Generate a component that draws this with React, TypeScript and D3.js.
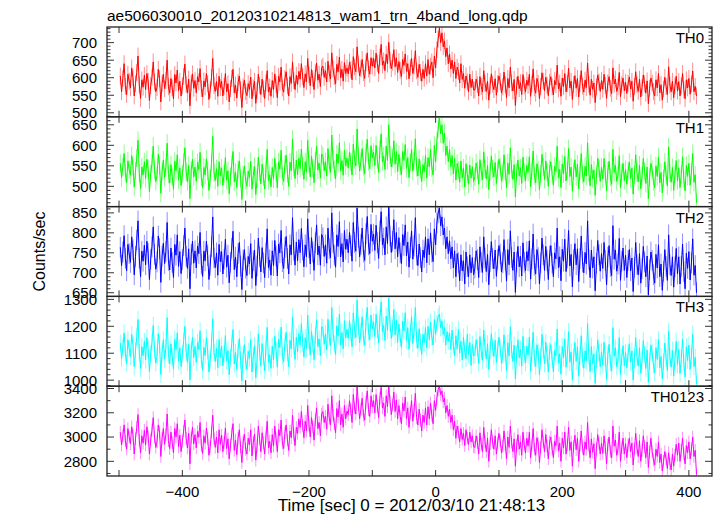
import React from "react";
import * as d3 from "d3";

const TITLE = "ae506030010_20120310214813_wam1_trn_4band_long.qdp";
const X_LABEL = "Time [sec] 0 = 2012/03/10 21:48:13";
const Y_LABEL = "Counts/sec";

const T_START = -498;
const T_STEP = 2;

const bandNames = ["TH0", "TH1", "TH2", "TH3", "TH0123"];
const bandColors = ["#ff0000", "#00ff00", "#0000ff", "#00ffff", "#ff00ff"];
const bandErrors = [24, 22, 26, 32, 52];

const xTicks = [-500, -400, -300, -200, -100, 0, 100, 200, 300, 400];
const xTickLabels = [-400, -200, 0, 200, 400];

const th0 = [
  605, 560, 598, 640, 575, 552, 610, 590, 571, 628, 600, 548, 583, 615, 662, 580, 541, 594, 573, 607,
  566, 612, 590, 535, 578, 601, 645, 588, 560, 572, 624, 597, 531, 583, 610, 569, 592, 650, 574, 556,
  598, 571, 540, 609, 585, 622, 563, 590, 548, 577, 604, 639, 581, 557, 596, 520, 585, 611, 570, 592,
  557, 603, 588, 626, 569, 545, 591, 574, 612, 583, 538, 566, 600, 655, 578, 561, 589, 547, 604, 572,
  590, 548, 575, 612, 560, 583, 531, 569, 598, 624, 557, 579, 542, 586, 605, 566, 515, 574, 593, 560,
  549, 583, 566, 602, 540, 571, 590, 527, 563, 610, 578, 552, 596, 568, 541, 585, 620, 559, 573, 547,
  592, 566, 611, 580, 543, 604, 588, 630, 571, 559, 598, 617, 576, 548, 603, 584, 645, 592, 566, 607,
  581, 618, 596, 640, 603, 572, 611, 589, 655, 608, 577, 623, 598, 566, 614, 642, 593, 610, 575, 628,
  633, 601, 620, 588, 647, 612, 596, 671, 625, 603, 582, 638, 617, 659, 600, 624, 590, 643, 612, 628,
  611, 645, 623, 594, 660, 631, 617, 688, 639, 605, 626, 652, 614, 598, 643, 671, 625, 610, 657, 633,
  655, 628, 670, 641, 612, 659, 695, 636, 648, 620, 667, 639, 701, 650, 626, 644, 680, 631, 657, 615,
  646, 621, 603, 652, 635, 668, 618, 640, 597, 629, 655, 612, 633, 677, 620, 601, 638, 615, 590, 624,
  598, 640, 605, 652, 610, 633, 645, 600, 662, 628, 680, 710, 742, 700, 728, 688, 705, 660, 685, 640,
  668, 625, 650, 612, 645, 598, 630, 618, 585, 640, 595, 612, 570, 605, 588, 560, 610, 572, 596, 565,
  565, 596, 580, 548, 603, 575, 559, 620, 584, 561, 590, 536, 577, 611, 582, 566, 597, 550, 583, 605,
  589, 557, 574, 616, 580, 543, 598, 571, 630, 585, 562, 595, 521, 578, 604, 569, 586, 552, 609, 577,
  560, 593, 578, 610, 547, 582, 625, 571, 556, 598, 584, 540, 575, 614, 590, 563, 601, 579, 549, 587,
  603, 574, 551, 592, 580, 636, 568, 585, 547, 599, 575, 612, 560, 583, 627, 571, 590, 538, 581, 606,
  570, 598, 545, 583, 620, 576, 559, 593, 572, 642, 581, 550, 596, 567, 585, 529, 574, 608, 588, 561,
  592, 567, 610, 578, 541, 585, 603, 570, 555, 628, 582, 596, 561, 574, 615, 546, 580, 599, 563, 587,
  555, 584, 602, 568, 590, 533, 575, 617, 580, 561, 596, 545, 572, 608, 583, 556, 591, 526, 570, 599,
  585, 560, 548, 594, 571, 612, 557, 580, 536, 568, 601, 575, 552, 631, 579, 560, 590, 543, 577, 604,
  562, 589, 548, 577, 612, 566, 540, 594, 571, 598, 553, 582, 619, 560, 575, 548,
];

const th1 = [
  556, 521, 548, 580, 533, 509, 562, 541, 527, 575, 550, 498, 538, 569, 612, 532, 495, 547, 528, 560,
  519, 566, 543, 487, 531, 555, 598, 540, 512, 526, 578, 551, 483, 537, 564, 522, 546, 605, 529, 508,
  553, 524, 493, 561, 538, 577, 515, 545, 502, 530, 559, 594, 535, 511, 551, 470, 539, 566, 523, 547,
  512, 558, 541, 583, 522, 497, 546, 528, 567, 537, 490, 520, 556, 622, 533, 514, 543, 500, 560, 526,
  545, 502, 531, 570, 515, 538, 482, 524, 553, 585, 511, 534, 497, 541, 562, 519, 468, 529, 549, 515,
  500, 537, 521, 561, 493, 527, 548, 480, 518, 571, 535, 506, 554, 523, 494, 541, 590, 514, 528, 499,
  546, 518, 568, 535, 496, 560, 542, 588, 525, 512, 553, 576, 531, 500, 559, 538, 615, 547, 519, 564,
  528, 569, 543, 591, 549, 517, 560, 535, 612, 554, 523, 573, 545, 509, 562, 598, 540, 557, 520, 579,
  574, 538, 560, 525, 592, 551, 534, 625, 566, 541, 518, 579, 556, 606, 537, 563, 527, 588, 550, 569,
  545, 584, 559, 528, 603, 566, 550, 640, 575, 537, 561, 592, 548, 530, 581, 615, 560, 543, 599, 569,
  583, 551, 600, 565, 534, 590, 628, 560, 573, 541, 598, 563, 650, 576, 547, 568, 611, 554, 585, 536,
  578, 549, 528, 585, 563, 602, 544, 570, 521, 558, 590, 537, 562, 616, 546, 525, 567, 541, 512, 553,
  535, 575, 520, 570, 548, 590, 545, 528, 600, 560, 610, 640, 672, 628, 650, 605, 630, 575, 598, 560,
  590, 548, 575, 530, 568, 515, 556, 540, 510, 562, 520, 545, 498, 555, 530, 505, 552, 520, 548, 512,
  524, 557, 540, 505, 565, 535, 516, 584, 543, 518, 551, 492, 536, 574, 542, 523, 558, 507, 541, 566,
  548, 513, 531, 577, 537, 496, 557, 529, 594, 542, 517, 553, 474, 534, 564, 525, 545, 507, 571, 533,
  514, 551, 534, 572, 499, 537, 586, 526, 509, 555, 540, 491, 530, 578, 547, 517, 562, 535, 500, 543,
  560, 529, 503, 549, 536, 598, 521, 541, 497, 555, 530, 573, 513, 538, 592, 524, 547, 488, 536, 565,
  523, 554, 494, 537, 580, 529, 511, 549, 525, 606, 535, 501, 553, 519, 540, 478, 527, 569, 544, 512,
  547, 518, 568, 530, 489, 538, 561, 522, 505, 590, 534, 551, 512, 526, 575, 496, 532, 556, 514, 541,
  505, 538, 559, 519, 545, 481, 528, 577, 533, 511, 552, 494, 525, 568, 536, 507, 547, 470, 522, 556,
  541, 512, 497, 550, 524, 571, 508, 534, 484, 519, 560, 528, 501, 596, 532, 510, 546, 490, 529, 563,
  514, 545, 497, 529, 572, 518, 489, 551, 524, 556, 503, 535, 580, 510, 528, 460,
];

const th2 = [
  764, 718, 752, 793, 736, 705, 771, 748, 726, 790, 758, 695, 741, 782, 830, 737, 690, 754, 729, 769,
  720, 779, 749, 683, 734, 765, 815, 746, 709, 727, 792, 761, 676, 742, 774, 723, 753, 826, 731, 707,
  762, 726, 688, 771, 744, 795, 716, 753, 698, 733, 768, 812, 741, 711, 760, 660, 746, 779, 724, 755,
  712, 767, 748, 801, 722, 691, 754, 730, 779, 743, 683, 719, 765, 840, 737, 713, 750, 694, 771, 728,
  753, 697, 734, 784, 714, 744, 675, 726, 762, 804, 708, 739, 690, 748, 776, 717, 658, 732, 758, 712,
  693, 741, 722, 773, 686, 730, 757, 668, 717, 787, 740, 702, 763, 725, 688, 750, 810, 713, 732, 694,
  755, 718, 781, 742, 692, 772, 750, 806, 728, 711, 763, 791, 736, 697, 770, 745, 838, 756, 719, 777,
  730, 783, 750, 811, 757, 715, 770, 740, 835, 763, 722, 788, 752, 706, 775, 820, 745, 767, 719, 796,
  788, 741, 770, 724, 812, 760, 737, 850, 776, 744, 714, 795, 766, 828, 740, 773, 727, 806, 759, 784,
  750, 801, 768, 729, 826, 776, 754, 862, 789, 740, 771, 812, 752, 731, 798, 841, 770, 748, 821, 779,
  797, 756, 819, 775, 736, 805, 853, 770, 787, 745, 815, 773, 868, 792, 751, 779, 833, 760, 801, 740,
  788, 750, 723, 796, 768, 820, 742, 777, 714, 763, 805, 734, 767, 838, 745, 718, 772, 738, 702, 757,
  738, 790, 725, 785, 745, 800, 752, 728, 810, 770, 825, 850, 862, 818, 840, 795, 812, 760, 790, 748,
  780, 735, 765, 712, 755, 690, 748, 725, 680, 745, 705, 730, 672, 752, 715, 690, 745, 700, 738, 695,
  712, 755, 733, 688, 765, 726, 701, 790, 737, 703, 746, 670, 728, 778, 736, 710, 757, 691, 734, 768,
  747, 702, 725, 783, 732, 679, 758, 720, 805, 738, 706, 752, 651, 727, 766, 715, 741, 692, 775, 726,
  705, 753, 730, 780, 684, 735, 797, 719, 697, 758, 738, 672, 725, 787, 745, 706, 766, 731, 683, 742,
  768, 724, 690, 750, 735, 812, 713, 740, 680, 759, 729, 784, 703, 737, 806, 717, 746, 665, 733, 773,
  720, 760, 678, 736, 792, 727, 700, 751, 722, 830, 733, 688, 757, 712, 740, 655, 724, 781, 745, 704,
  748, 711, 776, 731, 670, 739, 768, 716, 693, 818, 734, 757, 704, 722, 786, 681, 729, 762, 706, 744,
  688, 731, 758, 705, 737, 653, 714, 776, 721, 695, 748, 674, 710, 766, 727, 690, 742, 645, 708, 752,
  731, 695, 674, 746, 712, 770, 690, 722, 656, 704, 758, 716, 681, 795, 720, 693, 740, 664, 715, 761,
  697, 740, 672, 716, 772, 703, 660, 749, 711, 753, 682, 725, 785, 694, 718, 650,
];

const th3 = [
  1138, 1080, 1122, 1175, 1101, 1062, 1150, 1117, 1088, 1170, 1131, 1050, 1109, 1162, 1225, 1104, 1043, 1124, 1091, 1144,
  1075, 1158, 1116, 1032, 1097, 1140, 1203, 1112, 1064, 1089, 1172, 1133, 1021, 1106, 1150, 1078, 1121, 1232, 1095, 1060,
  1134, 1087, 1041, 1152, 1113, 1176, 1070, 1120, 1050, 1098, 1146, 1200, 1105, 1066, 1133, 1000, 1111, 1160, 1084, 1126,
  1066, 1140, 1115, 1183, 1077, 1037, 1121, 1092, 1158, 1109, 1030, 1075, 1137, 1228, 1102, 1069, 1118, 1046, 1151, 1085,
  1127, 1053, 1098, 1165, 1072, 1110, 1020, 1085, 1136, 1188, 1060, 1103, 1040, 1115, 1154, 1074, 998, 1094, 1132, 1068,
  1040, 1107, 1081, 1150, 1030, 1090, 1128, 1008, 1075, 1172, 1104, 1052, 1136, 1086, 1035, 1120, 1196, 1066, 1094, 1044,
  1126, 1075, 1163, 1110, 1048, 1152, 1121, 1197, 1089, 1067, 1139, 1178, 1102, 1050, 1148, 1116, 1235, 1128, 1077, 1160,
  1105, 1173, 1131, 1210, 1140, 1086, 1158, 1118, 1242, 1146, 1093, 1180, 1135, 1076, 1165, 1225, 1125, 1153, 1090, 1198,
  1195, 1133, 1171, 1112, 1226, 1158, 1128, 1270, 1176, 1135, 1094, 1202, 1164, 1245, 1130, 1177, 1116, 1221, 1157, 1189,
  1155, 1221, 1178, 1124, 1250, 1186, 1158, 1298, 1201, 1138, 1180, 1235, 1156, 1130, 1214, 1270, 1179, 1150, 1242, 1190,
  1216, 1162, 1245, 1188, 1138, 1230, 1291, 1180, 1203, 1147, 1238, 1185, 1305, 1210, 1155, 1193, 1262, 1168, 1222, 1140,
  1208, 1157, 1122, 1219, 1183, 1250, 1148, 1195, 1115, 1178, 1236, 1136, 1184, 1270, 1150, 1118, 1191, 1141, 1096, 1170,
  1140, 1195, 1120, 1200, 1150, 1215, 1160, 1130, 1225, 1170, 1210, 1235, 1245, 1195, 1220, 1170, 1195, 1130, 1180, 1145,
  1175, 1115, 1185, 1130, 1090, 1165, 1115, 1188, 1100, 1145, 1075, 1160, 1108, 1080, 1170, 1095, 1140, 1055, 1132, 1090,
  1095, 1150, 1118, 1062, 1162, 1106, 1074, 1186, 1120, 1078, 1135, 1040, 1110, 1172, 1121, 1088, 1148, 1066, 1116, 1160,
  1120, 1062, 1094, 1168, 1103, 1036, 1139, 1089, 1198, 1111, 1070, 1130, 1004, 1097, 1150, 1083, 1115, 1052, 1162, 1095,
  1064, 1126, 1093, 1160, 1033, 1098, 1178, 1080, 1051, 1131, 1104, 1020, 1086, 1170, 1112, 1060, 1140, 1094, 1030, 1108,
  1132, 1077, 1031, 1110, 1090, 1190, 1063, 1098, 1022, 1125, 1083, 1153, 1048, 1094, 1180, 1066, 1105, 1000, 1088, 1140,
  1070, 1124, 1015, 1092, 1165, 1078, 1044, 1109, 1071, 1210, 1090, 1031, 1125, 1060, 1097, 988, 1076, 1150, 1102, 1050,
  1105, 1056, 1140, 1081, 1002, 1095, 1133, 1063, 1035, 1195, 1089, 1120, 1050, 1073, 1158, 1021, 1084, 1128, 1054, 1102,
  1046, 1101, 1135, 1067, 1108, 1000, 1079, 1158, 1087, 1052, 1120, 1026, 1074, 1147, 1095, 1043, 1112, 992, 1070, 1130,
  1102, 1055, 1028, 1121, 1077, 1150, 1045, 1088, 1005, 1066, 1138, 1081, 1036, 1182, 1084, 1048, 1110, 1015, 1078, 1144,
  1058, 1114, 1025, 1080, 1152, 1066, 1012, 1124, 1073, 1130, 1040, 1092, 1170, 1050, 1085, 985,
];

const th0123 = [
  3040, 2935, 3010, 3100, 2970, 2900, 3070, 3000, 2945, 3085, 3020, 2860, 2985, 3080, 3185, 2975, 2870, 3010, 2950, 3055,
  2935, 3085, 3005, 2860, 2975, 3055, 3160, 3000, 2915, 2960, 3100, 3040, 2840, 2990, 3070, 2940, 3020, 3190, 2970, 2905,
  3040, 2955, 2870, 3070, 3000, 3110, 2920, 3015, 2880, 2965, 3050, 3140, 2990, 2910, 3030, 2780, 2995, 3080, 2945, 3020,
  2910, 3045, 3000, 3120, 2930, 2865, 3010, 2950, 3075, 2990, 2850, 2920, 3040, 3180, 2985, 2915, 3000, 2870, 3060, 2940,
  3015, 2880, 2955, 3075, 2905, 2985, 2820, 2935, 3030, 3110, 2890, 2975, 2855, 2990, 3060, 2915, 2790, 2960, 3025, 2900,
  2860, 2990, 2935, 3060, 2845, 2955, 3025, 2810, 2925, 3090, 2985, 2880, 3035, 2950, 2860, 3000, 3130, 2910, 2965, 2870,
  3020, 2925, 3090, 2985, 2880, 3060, 3010, 3140, 2950, 2905, 3035, 3100, 2975, 2890, 3050, 2995, 3180, 3020, 2930, 3080,
  3030, 3150, 3080, 3210, 3095, 2995, 3130, 3050, 3260, 3100, 3000, 3160, 3085, 2975, 3140, 3240, 3070, 3120, 3010, 3190,
  3210, 3120, 3170, 3065, 3270, 3155, 3100, 3340, 3180, 3110, 3035, 3235, 3165, 3300, 3100, 3190, 3080, 3260, 3150, 3215,
  3185, 3300, 3225, 3120, 3350, 3240, 3190, 3420, 3265, 3150, 3230, 3320, 3180, 3140, 3285, 3380, 3225, 3170, 3340, 3250,
  3300, 3200, 3350, 3255, 3160, 3320, 3410, 3240, 3280, 3170, 3340, 3250, 3420, 3295, 3185, 3265, 3370, 3210, 3305, 3150,
  3260, 3170, 3110, 3280, 3215, 3330, 3150, 3240, 3080, 3200, 3300, 3130, 3220, 3360, 3160, 3100, 3230, 3140, 3050, 3180,
  3120, 3240, 3100, 3250, 3150, 3280, 3180, 3110, 3300, 3220, 3320, 3390, 3420, 3350, 3380, 3290, 3320, 3200, 3260, 3170,
  3230, 3120, 3180, 3060, 3130, 2990, 3090, 3040, 2960, 3070, 2980, 3030, 2930, 3060, 2990, 2940, 3040, 2960, 3010, 2920,
  2915, 3010, 2955, 2860, 3035, 2940, 2880, 3080, 2960, 2880, 2990, 2800, 2945, 3060, 2960, 2900, 3010, 2860, 2950, 3030,
  2970, 2870, 2925, 3050, 2940, 2820, 3000, 2915, 3090, 2955, 2880, 2985, 2760, 2930, 3020, 2900, 2960, 2850, 3040, 2935,
  2870, 2990, 2925, 3040, 2830, 2935, 3070, 2900, 2850, 2995, 2945, 2790, 2915, 3060, 2960, 2880, 3020, 2925, 2820, 2960,
  3000, 2900, 2830, 2965, 2930, 3090, 2885, 2950, 2800, 2990, 2910, 3040, 2860, 2935, 3080, 2890, 2960, 2760, 2925, 3015,
  2895, 2990, 2800, 2930, 3050, 2910, 2850, 2960, 2900, 3120, 2930, 2830, 2985, 2875, 2945, 2740, 2905, 3020, 2950, 2860,
  2950, 2865, 3010, 2915, 2780, 2935, 3000, 2880, 2830, 3090, 2925, 2975, 2850, 2900, 3040, 2800, 2910, 2990, 2860, 2945,
  2830, 2935, 2990, 2880, 2950, 2770, 2900, 3030, 2910, 2840, 2970, 2800, 2890, 3010, 2920, 2830, 2960, 2750, 2880, 2990,
  2880, 2810, 2770, 2900, 2840, 2960, 2790, 2860, 2720, 2800, 2880, 2820, 2740, 2870, 2780, 2730, 2860, 2760, 2850, 2940,
  2850, 2950, 2800, 2890, 2990, 2860, 2780, 2930, 2870, 2960, 2820, 2900, 3000, 2840, 2890, 2690,
];

const bandValues = [th0, th1, th2, th3, th0123];

// per-panel y domains, major tick values, minor tick step
const yDomains: [number, number][] = [
  [488.6, 744.6],
  [450.6, 669.5],
  [640.8, 865.8],
  [977.5, 1311],
  [2679, 3419],
];
const yMajorTicks = [
  [500, 550, 600, 650, 700],
  [500, 550, 600, 650],
  [650, 700, 750, 800, 850],
  [1000, 1100, 1200, 1300],
  [2800, 3000, 3200, 3400],
];
const yMinorSteps = [10, 10, 10, 20, 100];

const W = 717;
const H = 516;
const LEFT = 107;
const RIGHT = 712;
const TOP = 27;
const BOTTOM = 476;
const FONT = "'Liberation Sans', Arial, Helvetica, sans-serif";

export default function App() {
  const nPanels = bandNames.length;
  const panelH = (BOTTOM - TOP) / nPanels;
  const x = d3.scaleLinear().domain([-519, 436.5]).range([LEFT, RIGHT]);
  const fmt = (v: number) => (v < 0 ? "\u2212" + Math.abs(v) : String(v));

  return (
    <svg
      width={W}
      height={H}
      style={{ display: "block", position: "absolute", left: 0, top: 0, background: "#fff" }}
      fontFamily={FONT}
    >
      <defs>
        {bandNames.map((_, i) => (
          <clipPath id={`clip${i}`} key={i}>
            <rect x={LEFT} y={TOP + i * panelH} width={RIGHT - LEFT} height={panelH} />
          </clipPath>
        ))}
      </defs>
      <text x={LEFT} y={20.5} fontSize={15.5} fill="#000">{TITLE}</text>
      {bandNames.map((name, i) => {
        const top = TOP + i * panelH;
        const bot = top + panelH;
        const y = d3.scaleLinear().domain(yDomains[i]).range([bot, top]);
        const vals = bandValues[i];
        const pts = vals.map((v, k) => [T_START + k * T_STEP, v] as [number, number]);
        const line = d3
          .line<[number, number]>()
          .x((d) => x(d[0]))
          .y((d) => y(d[1]));
        const err = bandErrors[i];
        const errPath = pts
          .map((d) => `M${x(d[0]).toFixed(2)},${y(d[1] - err).toFixed(2)}V${y(d[1] + err).toFixed(2)}`)
          .join("");
        const [d0, d1] = yDomains[i];
        const minor = d3
          .range(Math.ceil(d0 / yMinorSteps[i]) * yMinorSteps[i], d1, yMinorSteps[i])
          .filter((v) => !yMajorTicks[i].includes(v));
        return (
          <g key={name}>
            <g clipPath={`url(#clip${i})`}>
              <path d={errPath} stroke={bandColors[i]} strokeOpacity={0.45} strokeWidth={1} fill="none" />
              <path d={line(pts) || ""} stroke={bandColors[i]} strokeWidth={1} fill="none" />
            </g>
            {minor.map((v) => (
              <g key={"m" + v}>
                <line x1={LEFT} x2={LEFT + 3.5} y1={y(v)} y2={y(v)} stroke="#333" strokeWidth={1} />
                <line x1={RIGHT} x2={RIGHT - 3.5} y1={y(v)} y2={y(v)} stroke="#333" strokeWidth={1} />
              </g>
            ))}
            {yMajorTicks[i].map((v) => (
              <g key={"M" + v}>
                <line x1={LEFT} x2={LEFT + 7} y1={y(v)} y2={y(v)} stroke="#333" strokeWidth={1} />
                <line x1={RIGHT} x2={RIGHT - 7} y1={y(v)} y2={y(v)} stroke="#333" strokeWidth={1} />
                <text x={97} y={y(v)} dy="0.36em" textAnchor="end" fontSize={15} fill="#000">
                  {v}
                </text>
              </g>
            ))}
            {xTicks.map((t) => (
              <g key={"x" + t}>
                <line x1={x(t)} x2={x(t)} y1={top} y2={top + 6} stroke="#333" strokeWidth={1} />
                <line x1={x(t)} x2={x(t)} y1={bot} y2={bot - 6} stroke="#333" strokeWidth={1} />
              </g>
            ))}
            <rect x={LEFT} y={top} width={RIGHT - LEFT} height={panelH} fill="none" stroke="#222" strokeWidth={1.3} />
            <text x={704} y={top + 16} textAnchor="end" fontSize={15} fill="#000">
              {name}
            </text>
          </g>
        );
      })}
      {xTickLabels.map((t) => (
        <text key={t} x={x(t)} y={497} textAnchor="middle" fontSize={15} fill="#000">
          {fmt(t)}
        </text>
      ))}
      <text x={(LEFT + RIGHT) / 2 + 2} y={511} textAnchor="middle" fontSize={17} fill="#000">
        {X_LABEL}
      </text>
      <text transform={`translate(45,${(TOP + BOTTOM) / 2}) rotate(-90)`} textAnchor="middle" fontSize={16} fill="#000">
        {Y_LABEL}
      </text>
    </svg>
  );
}
